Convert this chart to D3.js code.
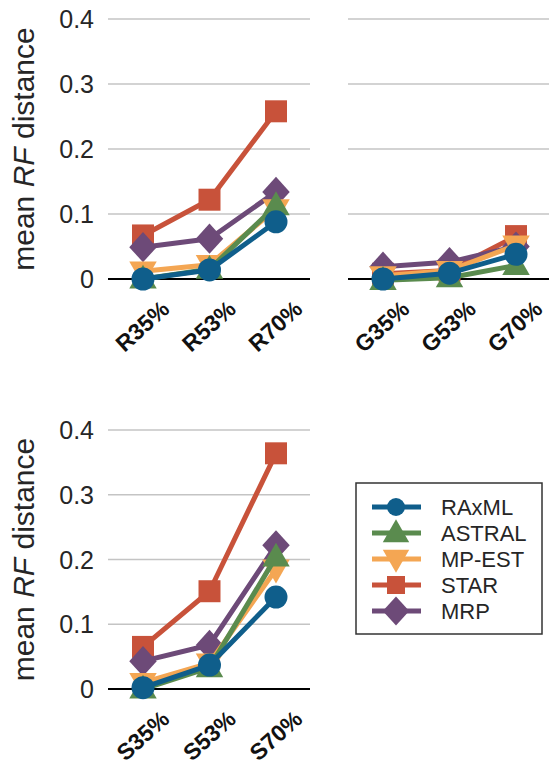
<!DOCTYPE html>
<html>
<head>
<meta charset="utf-8">
<script src="https://cdn.jsdelivr.net/npm/d3@7"></script>
<style>
  body { margin: 0; background: #fff; }
  text { font-family: "Liberation Sans", Arial, sans-serif; }
</style>
</head>
<body>
<div id="container"></div>
<script>
// categories per panel
const catsR = ['R35%', 'R53%', 'R70%']
const catsG = ['G35%', 'G53%', 'G70%']
const catsS = ['S35%', 'S53%', 'S70%']
const yTicks = [0, 0.1, 0.2, 0.3, 0.4]
const yTickLabels = ['0', '0.1', '0.2', '0.3', '0.4']

const methods = ['RAxML', 'ASTRAL', 'MP-EST', 'STAR', 'MRP']

// values (mean RF distance)
const raxmlR = [0.000, 0.014, 0.088]
const astralR = [0.000, 0.015, 0.113]
const mpestR = [0.012, 0.022, 0.108]
const starR = [0.067, 0.122, 0.258]
const mrpR = [0.049, 0.062, 0.134]

const raxmlG = [0.000, 0.009, 0.038]
const astralG = [-0.002, 0.002, 0.021]
const mpestG = [0.005, 0.013, 0.052]
const starG = [0.008, 0.013, 0.066]
const mrpG = [0.019, 0.026, 0.050]

const raxmlS = [0.002, 0.037, 0.142]
const astralS = [0.000, 0.033, 0.204]
const mpestS = [0.010, 0.040, 0.185]
const starS = [0.065, 0.151, 0.364]
const mrpS = [0.043, 0.068, 0.222]

const colors = {
  'RAxML': '#0f5e8b',
  'ASTRAL': '#5a8b4e',
  'MP-EST': '#f4a653',
  'STAR': '#c8523a',
  'MRP': '#6d4a78'
}
const shapes = {
  'RAxML': 'circle',
  'ASTRAL': 'triUp',
  'MP-EST': 'triDown',
  'STAR': 'square',
  'MRP': 'diamond'
}
// drawing order (last on top)
const drawOrder = ['STAR', 'MRP', 'MP-EST', 'ASTRAL', 'RAxML']

const W = 549, H = 765

const svg = d3.select('#container')
  .append('svg')
  .attr('width', W)
  .attr('height', H)

function markerPath(shape, s) {
  let p = d3.path()
  switch (shape) {
    case 'circle':
      p.arc(0, 0, s * 0.5, 0, 2 * Math.PI)
      break
    case 'square':
      p.rect(-s * 0.5, -s * 0.5, s, s)
      break
    case 'triUp':
      p.moveTo(0, -s * 0.62)
      p.lineTo(s * 0.6, s * 0.42)
      p.lineTo(-s * 0.6, s * 0.42)
      p.closePath()
      break
    case 'triDown':
      p.moveTo(0, s * 0.62)
      p.lineTo(s * 0.6, -s * 0.42)
      p.lineTo(-s * 0.6, -s * 0.42)
      p.closePath()
      break
    case 'diamond':
      p.moveTo(0, -s * 0.66)
      p.lineTo(s * 0.6, 0)
      p.lineTo(0, s * 0.66)
      p.lineTo(-s * 0.6, 0)
      p.closePath()
      break
  }
  return p.toString()
}

function drawPanel(opts) {
  let { x0, x1, yZero, yTop, cats, series, yLabel } = opts
  let g = svg.append('g')

  let x = d3.scalePoint()
    .domain(cats)
    .range([x0 + 35, x0 + 168])

  let y = d3.scaleLinear()
    .domain([0, 0.4])
    .range([yZero, yTop])

  // gridlines
  g.selectAll('.grid')
    .data(yTicks.filter(d => d > 0))
    .enter().append('line')
    .attr('x1', x0).attr('x2', x1)
    .attr('y1', d => y(d)).attr('y2', d => y(d))
    .style('stroke', '#c4c4c4')
    .style('stroke-width', 1.6)

  if (yLabel) {
    g.selectAll('.ytick')
      .data(yTicks)
      .enter().append('text')
      .attr('x', x0 - 14)
      .attr('y', d => y(d))
      .attr('dy', '0.36em')
      .attr('text-anchor', 'end')
      .style('font-size', '25px')
      .style('fill', '#262626')
      .text((d, i) => yTickLabels[i])

    let lab = g.append('text')
      .attr('transform', `translate(34,${(yZero + yTop) / 2}) rotate(-90)`)
      .attr('text-anchor', 'middle')
      .style('font-size', '30px')
      .style('fill', '#262626')
    lab.append('tspan').text('mean ')
    lab.append('tspan').style('font-style', 'italic').text('RF')
    lab.append('tspan').text(' distance')
  }

  // x tick labels
  g.selectAll('.xtick')
    .data(cats)
    .enter().append('text')
    .attr('transform', d => `translate(${x(d) + 28},${yZero + 32}) rotate(-42)`)
    .attr('text-anchor', 'end')
    .style('font-size', '23px')
    .style('font-weight', 'bold')
    .style('fill', '#111')
    .text(d => d)

  let line = d3.line()
    .x((d, i) => x(cats[i]))
    .y(d => y(d))

  drawOrder.forEach(m => {
    let vals = series[m]
    g.append('path')
      .attr('d', line(vals))
      .style('fill', 'none')
      .style('stroke', colors[m])
      .style('stroke-width', 5)
      .style('stroke-linejoin', 'round')
    g.selectAll('.mk-' + m)
      .data(vals)
      .enter().append('path')
      .attr('transform', (d, i) => `translate(${x(cats[i])},${y(d)})`)
      .attr('d', markerPath(shapes[m], shapes[m] === 'circle' ? 23 : (shapes[m] === 'square' ? 22 : 44 * 0.52)))
      .style('fill', colors[m])
  })

  // zero line on top of grid
  g.insert('line', 'path')
    .attr('x1', x0).attr('x2', x1)
    .attr('y1', y(0)).attr('y2', y(0))
    .style('stroke', '#000')
    .style('stroke-width', 1.8)
}

drawPanel({
  x0: 108, x1: 310, yZero: 279, yTop: 19, cats: catsR, yLabel: true,
  series: { 'RAxML': raxmlR, 'ASTRAL': astralR, 'MP-EST': mpestR, 'STAR': starR, 'MRP': mrpR }
})
drawPanel({
  x0: 348, x1: 550, yZero: 279, yTop: 19, cats: catsG, yLabel: false,
  series: { 'RAxML': raxmlG, 'ASTRAL': astralG, 'MP-EST': mpestG, 'STAR': starG, 'MRP': mrpG }
})
drawPanel({
  x0: 108, x1: 310, yZero: 689, yTop: 430, cats: catsS, yLabel: true,
  series: { 'RAxML': raxmlS, 'ASTRAL': astralS, 'MP-EST': mpestS, 'STAR': starS, 'MRP': mrpS }
})

// legend
let leg = svg.append('g')
leg.append('rect')
  .attr('x', 356).attr('y', 483)
  .attr('width', 186).attr('height', 151)
  .style('fill', '#fff')
  .style('stroke', '#333')
  .style('stroke-width', 1.5)

let rows = leg.selectAll('.row')
  .data(methods)
  .enter().append('g')
  .attr('transform', (d, i) => `translate(0,${507 + i * 26})`)

rows.append('line')
  .attr('x1', 372).attr('x2', 421)
  .attr('y1', 0).attr('y2', 0)
  .style('stroke', d => colors[d])
  .style('stroke-width', 5)
rows.append('path')
  .attr('transform', 'translate(396,0)')
  .attr('d', d => markerPath(shapes[d], shapes[d] === 'circle' ? 18 : (shapes[d] === 'square' ? 18 : 22)))
  .style('fill', d => colors[d])
rows.append('text')
  .attr('x', 441)
  .attr('y', 0)
  .attr('dy', '0.36em')
  .style('font-size', '22px')
  .style('fill', '#262626')
  .text(d => d)
</script>
</body>
</html>
